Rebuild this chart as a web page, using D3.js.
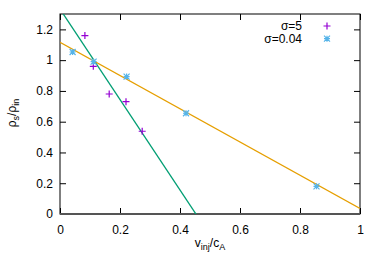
<!DOCTYPE html>
<html>
<head>
<meta charset="utf-8">
<script src="https://cdn.jsdelivr.net/npm/d3@7"></script>
<style>
  body { margin: 0; background: #fff; }
  text { font-family: "Liberation Sans", Arial, sans-serif; font-size: 12px; fill: #000; }
</style>
</head>
<body>
<div id="chart"></div>
<script>
const width = 382
const height = 267
const margin = {top: 14, right: 22, bottom: 53, left: 60}

// datos
const sig5X = [0.083, 0.111, 0.164, 0.22, 0.274]
const sig5Y = [1.16, 0.96, 0.78, 0.73, 0.538]
const sig004X = [0.042, 0.112, 0.222, 0.42, 0.855]
const sig004Y = [1.053, 0.99, 0.893, 0.655, 0.18]
// rectas de ajuste: [ordenada, pendiente]
const fitGreen = [1.332, -2.94]
const fitOrange = [1.116, -1.08]
const xTicks = [0, 0.2, 0.4, 0.6, 0.8, 1]
const yTicks = [0, 0.2, 0.4, 0.6, 0.8, 1, 1.2]
const legendLabels = ["σ=5", "σ=0.04"]

const svg = d3.select("div#chart")
    .append("svg")
    .attr("width", width)
    .attr("height", height)

const w = width - margin.left - margin.right
const h = height - margin.top - margin.bottom

const x = d3.scaleLinear().domain([0, 1]).range([0, w])
const y = d3.scaleLinear().domain([0, 1.3]).range([h, 0])

const g = svg.append("g").attr("transform", `translate(${margin.left},${margin.top})`)

// ejes (ticks hacia dentro, con espejo arriba y a la derecha)
const fmt = d => d3.format("")(+d.toFixed(1))
g.append("g").attr("transform", `translate(0,${h})`)
    .call(d3.axisBottom(x).tickValues(xTicks).tickSize(-6).tickPadding(11).tickFormat(fmt))
g.append("g")
    .call(d3.axisLeft(y).tickValues(yTicks).tickSize(-6).tickPadding(7).tickFormat(fmt))
g.append("g")
    .call(d3.axisTop(x).tickValues(xTicks).tickSize(-6).tickFormat(""))
g.append("g").attr("transform", `translate(${w},0)`)
    .call(d3.axisRight(y).tickValues(yTicks).tickSize(-6).tickFormat(""))

g.selectAll(".domain").remove()
g.selectAll(".tick line").attr("stroke", "#000")
g.selectAll(".tick text").style("font-size", "12px").attr("fill", "#000")

g.append("rect")
    .attr("width", w).attr("height", h)
    .attr("fill", "none").attr("stroke", "#000").attr("stroke-width", 1)

// linea y=0 en gris
g.append("line")
    .attr("x1", 0).attr("x2", w).attr("y1", y(0)).attr("y2", y(0))
    .attr("stroke", "#555").attr("stroke-width", 2)

const clip = svg.append("clipPath").attr("id", "clip")
    .append("rect").attr("width", w).attr("height", h)
const plot = g.append("g").attr("clip-path", "url(#clip)")

function fitLine(fit, color) {
    const xs = [0, 1]
    plot.append("line")
        .attr("x1", x(xs[0])).attr("y1", y(fit[0] + fit[1] * xs[0]))
        .attr("x2", x(xs[1])).attr("y2", y(fit[0] + fit[1] * xs[1]))
        .attr("stroke", color).attr("stroke-width", 1.3)
}
fitLine(fitGreen, "#009e73")
fitLine(fitOrange, "#e69f00")

function plus(sel, s, color) {
    sel.append("path")
        .attr("d", `M${-s},0H${s}M0,${-s}V${s}`)
        .attr("stroke", color).attr("stroke-width", 1.2).attr("fill", "none")
}
function star(sel, s, color) {
    sel.append("path")
        .attr("d", `M${-s},0H${s}M0,${-s}V${s}M${-s},${-s}L${s},${s}M${-s},${s}L${s},${-s}`)
        .attr("stroke", color).attr("stroke-width", 1.2).attr("fill", "none")
}

const d5 = sig5X.map((v, i) => [v, sig5Y[i]])
const d004 = sig004X.map((v, i) => [v, sig004Y[i]])

g.selectAll("g.p5").data(d5).enter()
    .append("g").attr("class", "p5")
    .attr("transform", d => `translate(${x(d[0])},${y(d[1])})`)
    .each(function () { plus(d3.select(this), 3.5, "#9400d3") })

g.selectAll("g.p004").data(d004).enter()
    .append("g").attr("class", "p004")
    .attr("transform", d => `translate(${x(d[0])},${y(d[1])})`)
    .each(function () { star(d3.select(this), 3, "#56b4e9") })

// leyenda
const legend = svg.append("g")
legend.selectAll("text").data(legendLabels).enter()
    .append("text")
    .attr("x", 302).attr("y", (d, i) => 30 + i * 12.7)
    .attr("text-anchor", "end")
    .text(d => d)
plus(legend.append("g").attr("transform", "translate(327,26)"), 3.5, "#9400d3")
star(legend.append("g").attr("transform", "translate(327,38.7)"), 3, "#56b4e9")

// titulos de ejes
const xl = svg.append("text").attr("x", 210).attr("y", 247).attr("text-anchor", "middle")
xl.append("tspan").text("v")
xl.append("tspan").attr("dy", 3).style("font-size", "9px").text("inj")
xl.append("tspan").attr("dy", -3).text("/c")
xl.append("tspan").attr("dy", 3).style("font-size", "9px").text("A")

const yl = svg.append("text")
    .attr("transform", "translate(16,113) rotate(-90)")
    .attr("text-anchor", "middle")
yl.append("tspan").text("ρ")
yl.append("tspan").attr("dy", 3).style("font-size", "9px").text("s")
yl.append("tspan").attr("dy", -3).text("/ρ")
yl.append("tspan").attr("dy", 3).style("font-size", "9px").text("in")
</script>
</body>
</html>
